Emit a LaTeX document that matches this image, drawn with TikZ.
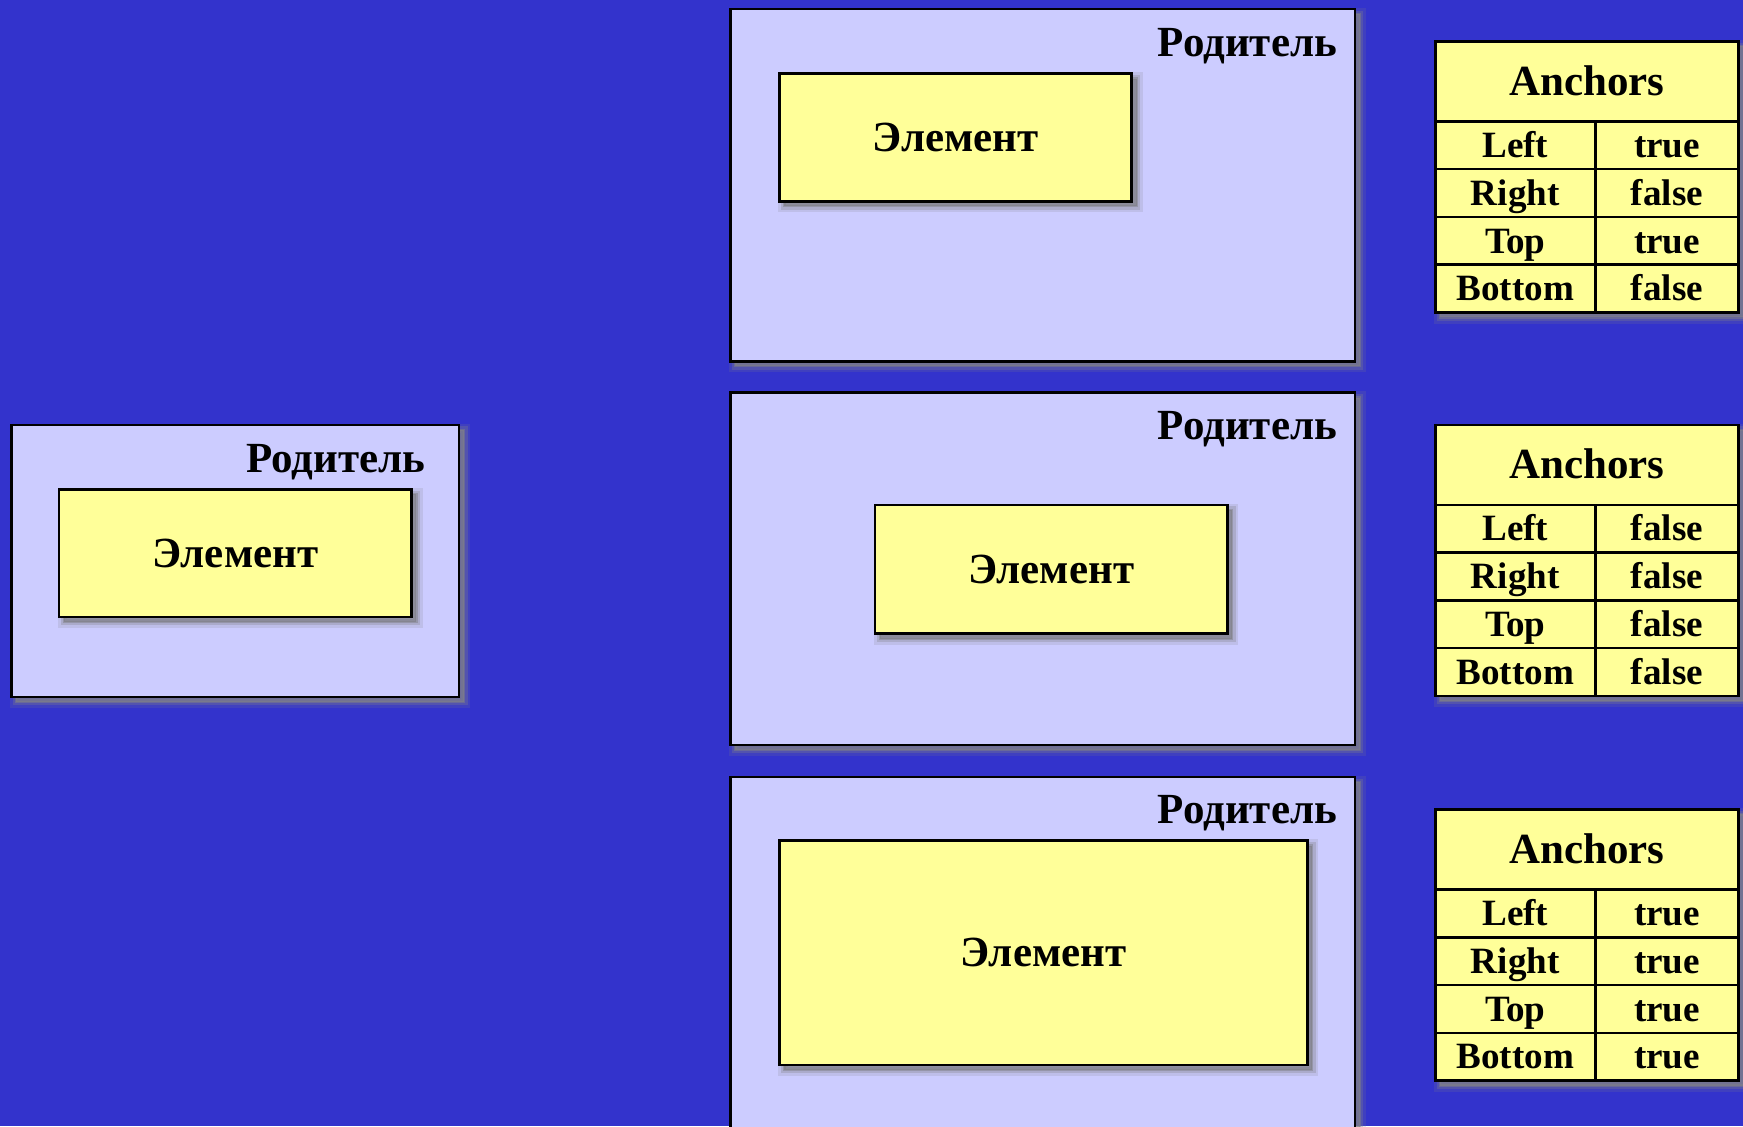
\documentclass[tikz,border=0pt]{standalone}
\usepackage{fontspec}
\setmainfont{Liberation Serif}
\usetikzlibrary{shadows}

\definecolor{slideblue}{HTML}{3333CC}
\definecolor{parentfill}{HTML}{CCCCFF}
\definecolor{elemfill}{HTML}{FFFF99}
\definecolor{shadowgray}{HTML}{808088}

\begin{document}
\begin{tikzpicture}[x=0.02cm, y=-0.02cm,
	every node/.style={inner sep=0pt, text height=14.5pt, text depth=0pt, font=\fontsize{22}{26}\selectfont\bfseries},
	soft/.style={shadow xshift=0.09cm, shadow yshift=-0.09cm, fill=shadowgray, draw=shadowgray},
	box/.style={draw, line width=1.3pt, anchor=north west,
		general shadow={soft, line width=0.22cm, opacity=0.18},
		general shadow={soft, line width=0.12cm, opacity=0.3},
		general shadow={soft, line width=0.04cm, opacity=0.5}},
	parent/.style={box, fill=parentfill, minimum width=11.24cm, minimum height=6.34cm},
	elem/.style={box, fill=elemfill, minimum width=6.34cm, minimum height=2.3cm},
	frame/.style={box, fill=elemfill, minimum width=5.46cm, minimum height=4.88cm},
	cell/.style={draw, line width=1.3pt, fill=elemfill, anchor=north west, minimum height=0.86cm, text height=12.5pt, font=\fontsize{19}{22}\selectfont\bfseries},
	head/.style={cell, minimum width=5.46cm, minimum height=1.44cm, text height=14.5pt, font=\fontsize{22}{26}\selectfont\bfseries},
	key/.style={cell, minimum width=2.88cm},
	val/.style={cell, minimum width=2.58cm}]

	\fill[slideblue] (0,0) rectangle (1568,1013);
	\useasboundingbox (0,0) rectangle (1568,1013);

	% starting state
	\node[parent, minimum width=8.06cm, minimum height=4.9cm] (p0) at (9,381) {};
	\node[elem] (e0) at (52,439) {Элемент};
	\node[anchor=east] (c0) at (383,412) {Родитель};

	% case 1
	\node[parent] (p1) at (656,7) {};
	\node[elem] (e1) at (700,65) {Элемент};
	\node[anchor=east] (c1) at (1203,38) {Родитель};

	% case 2
	\node[parent] (p2) at (656,352) {};
	\node[elem, minimum height=2.32cm] (e2) at (786,453) {Элемент};
	\node[anchor=east] (c2) at (1203,383) {Родитель};

	% case 3
	\node[parent] (p3) at (656,698) {};
	\node[elem, minimum width=9.5cm, minimum height=4.04cm] (e3) at (700,755) {Элемент};
	\node[anchor=east] (c3) at (1203,728) {Родитель};

	% table 1
	\node[frame] (t1) at (1290,36) {};
	\node[head] (h1) at (1290,36) {Anchors};
	\node[key] (l1) at (1290,108) {Left};
	\node[val] (lv1) at (1434,108) {true};
	\node[key] (r1) at (1290,151) {Right};
	\node[val] (rv1) at (1434,151) {false};
	\node[key] (u1) at (1290,194) {Top};
	\node[val] (uv1) at (1434,194) {true};
	\node[key] (b1) at (1290,237) {Bottom};
	\node[val] (bv1) at (1434,237) {false};

	% table 2
	\node[frame] (t2) at (1290,381) {};
	\node[head] (h2) at (1290,381) {Anchors};
	\node[key] (l2) at (1290,453) {Left};
	\node[val] (lv2) at (1434,453) {false};
	\node[key] (r2) at (1290,496) {Right};
	\node[val] (rv2) at (1434,496) {false};
	\node[key] (u2) at (1290,539) {Top};
	\node[val] (uv2) at (1434,539) {false};
	\node[key] (b2) at (1290,582) {Bottom};
	\node[val] (bv2) at (1434,582) {false};

	% table 3
	\node[frame] (t3) at (1290,727) {};
	\node[head] (h3) at (1290,727) {Anchors};
	\node[key] (l3) at (1290,799) {Left};
	\node[val] (lv3) at (1434,799) {true};
	\node[key] (r3) at (1290,842) {Right};
	\node[val] (rv3) at (1434,842) {true};
	\node[key] (u3) at (1290,885) {Top};
	\node[val] (uv3) at (1434,885) {true};
	\node[key] (b3) at (1290,928) {Bottom};
	\node[val] (bv3) at (1434,928) {true};

\end{tikzpicture}
\end{document}
